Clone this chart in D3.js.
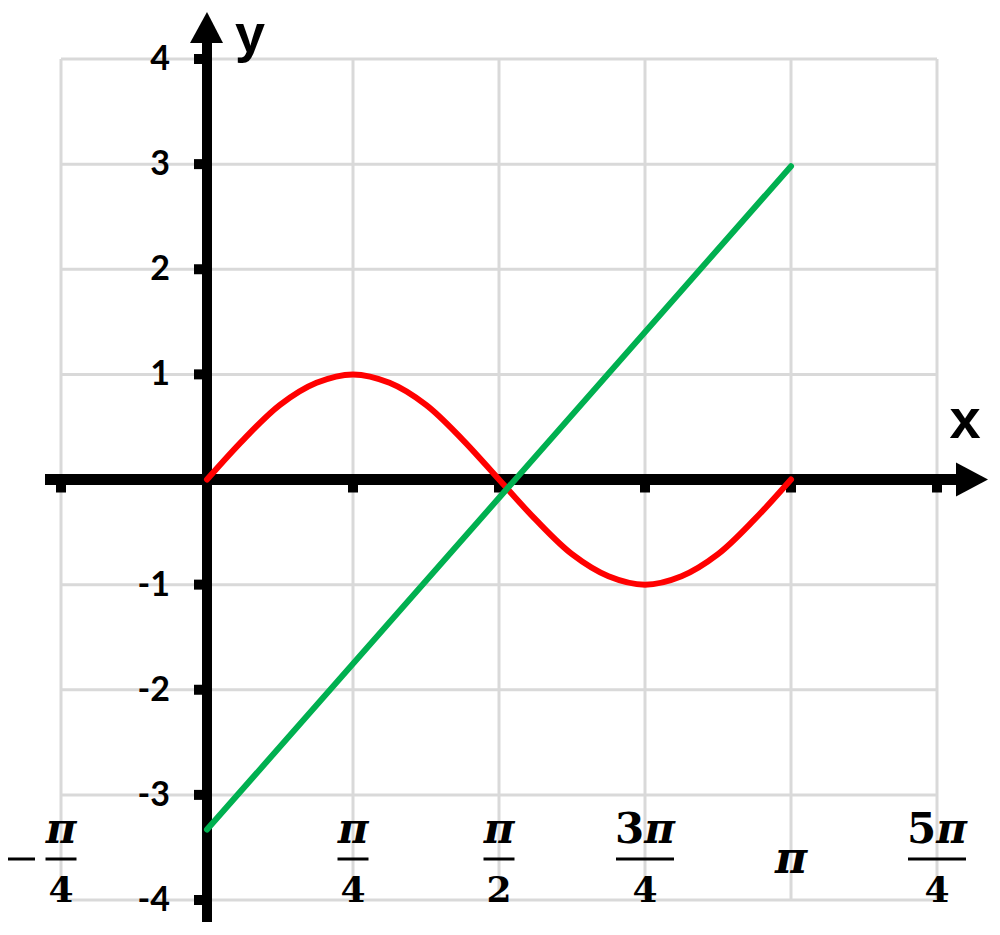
<!DOCTYPE html>
<html>
<head>
<meta charset="utf-8">
<script src="https://cdn.jsdelivr.net/npm/d3@7"></script>
<style>
  body { margin: 0; background: #fff; }
</style>
</head>
<body>
<div id="graph"></div>
<script>
// x ticks every pi/4
var xTickValues = [-Math.PI / 4, 0, Math.PI / 4, Math.PI / 2, 3 * Math.PI / 4, Math.PI, 5 * Math.PI / 4];
var xTickSign   = ["\u2212", null, "", "", "", "", ""];
var xTickCoef   = ["", null, "", "", "3", "", "5"];
var xTickDenom  = ["4", null, "4", "2", "4", null, "4"];

var yTickValues = [-4, -3, -2, -1, 1, 2, 3, 4];

// red curve, sampled every pi/16 from 0 to pi
var redStep = Math.PI / 16;
var redY = [0, 0.38, 0.71, 0.92, 1, 0.92, 0.71, 0.38, 0, -0.38, -0.71, -0.92, -1, -0.92, -0.71, -0.38, 0];

// green line
var greenX = [0, Math.PI];
var greenY = [-3.33, 2.98];

var width = 1000, height = 935;

var svg = d3.select("#graph")
  .append("svg")
    .attr("width", width)
    .attr("height", height);

var x = d3.scaleLinear()
  .domain([-Math.PI / 4, 5 * Math.PI / 4])
  .range([61, 937]);

var y = d3.scaleLinear()
  .domain([-4, 4])
  .range([900, 59]);

// grid
svg.append("g")
  .selectAll("line")
  .data(xTickValues)
  .enter().append("line")
    .attr("x1", function(d) { return x(d); })
    .attr("x2", function(d) { return x(d); })
    .attr("y1", y(4))
    .attr("y2", y(-4))
    .attr("stroke", "#d9d9d9")
    .attr("stroke-width", 3);

svg.append("g")
  .selectAll("line")
  .data(d3.range(-4, 5))
  .enter().append("line")
    .attr("x1", x(-Math.PI / 4))
    .attr("x2", x(5 * Math.PI / 4))
    .attr("y1", function(d) { return y(d); })
    .attr("y2", function(d) { return y(d); })
    .attr("stroke", "#d9d9d9")
    .attr("stroke-width", 3);

// x axis
var x0 = x(0), y0 = y(0);
svg.append("line")
  .attr("x1", x(-Math.PI / 4) - 16)
  .attr("x2", 958)
  .attr("y1", y0)
  .attr("y2", y0)
  .attr("stroke", "#000")
  .attr("stroke-width", 11);
svg.append("path")
  .attr("d", "M956," + (y0 - 17) + "L988," + y0 + "L956," + (y0 + 17) + "Z")
  .attr("fill", "#000");

svg.append("g")
  .selectAll("rect")
  .data(xTickValues.filter(function(d) { return d != 0; }))
  .enter().append("rect")
    .attr("x", function(d) { return x(d) - 5; })
    .attr("y", y0 + 4)
    .attr("width", 10)
    .attr("height", 9)
    .attr("fill", "#000");

// y axis
svg.append("line")
  .attr("x1", x0)
  .attr("x2", x0)
  .attr("y1", 922)
  .attr("y2", 41)
  .attr("stroke", "#000")
  .attr("stroke-width", 10);
svg.append("path")
  .attr("d", "M" + (x0 - 17) + ",43L" + x0 + ",12L" + (x0 + 16) + ",43Z")
  .attr("fill", "#000");

svg.append("g")
  .selectAll("rect")
  .data(yTickValues)
  .enter().append("rect")
    .attr("x", x0 - 13)
    .attr("y", function(d) { return y(d) - 5; })
    .attr("width", 10)
    .attr("height", 10)
    .attr("fill", "#000");

// y tick labels
svg.append("g")
  .selectAll("text")
  .data(yTickValues)
  .enter().append("text")
    .attr("x", 170)
    .attr("y", function(d) { return y(d) + 11; })
    .attr("text-anchor", "end")
    .attr("font-family", "Lato, 'Open Sans', sans-serif")
    .attr("font-weight", "bold")
    .attr("font-size", 34)
    .text(function(d) { return d; });

// x tick labels (fractions)
var xl = svg.append("g")
  .attr("font-family", "'DejaVu Serif', serif")
  .attr("font-weight", "bold")
  .attr("text-anchor", "middle");

xTickValues.forEach(function(v, i) {
  if (xTickCoef[i] == null) return;
  var cx = x(v);
  if (xTickDenom[i] == null) {
    xl.append("text")
      .attr("x", cx)
      .attr("y", 873)
      .attr("font-size", 44)
      .attr("font-style", "italic")
      .text("\u03c0");
    return;
  }
  var barW = xTickCoef[i] ? 58 : 31;
  var num = xl.append("text")
    .attr("x", cx)
    .attr("y", 843)
    .attr("font-size", 42);
  if (xTickCoef[i]) num.append("tspan").text(xTickCoef[i]);
  num.append("tspan").attr("font-style", "italic").text("\u03c0");
  xl.append("line")
    .attr("x1", cx - barW / 2)
    .attr("x2", cx + barW / 2)
    .attr("y1", 859)
    .attr("y2", 859)
    .attr("stroke", "#000")
    .attr("stroke-width", 3);
  xl.append("text")
    .attr("x", cx)
    .attr("y", 902)
    .attr("font-size", 36)
    .text(xTickDenom[i]);
  if (xTickSign[i]) {
    xl.append("line")
      .attr("x1", cx - 53)
      .attr("x2", cx - 26)
      .attr("y1", 859)
      .attr("y2", 859)
      .attr("stroke", "#000")
      .attr("stroke-width", 3);
  }
});

// curves
svg.append("path")
  .datum(redY)
  .attr("fill", "none")
  .attr("stroke", "#ff0000")
  .attr("stroke-width", 6)
  .attr("stroke-linecap", "round")
  .attr("d", d3.line()
    .curve(d3.curveCatmullRom)
    .x(function(d, i) { return x(i * redStep); })
    .y(function(d) { return y(d); })
  );

svg.append("path")
  .datum(d3.zip(greenX, greenY))
  .attr("fill", "none")
  .attr("stroke", "#00b050")
  .attr("stroke-width", 6)
  .attr("stroke-linecap", "round")
  .attr("d", d3.line()
    .x(function(d) { return x(d[0]); })
    .y(function(d) { return y(d[1]); })
  );

// axis names
svg.append("text")
  .attr("x", 250)
  .attr("y", 52)
  .attr("text-anchor", "middle")
  .attr("font-family", "'Liberation Sans', Arial, sans-serif")
  .attr("font-weight", "bold")
  .attr("font-size", 54)
  .text("y");

svg.append("text")
  .attr("x", 965)
  .attr("y", 438)
  .attr("text-anchor", "middle")
  .attr("font-family", "'Liberation Sans', Arial, sans-serif")
  .attr("font-weight", "bold")
  .attr("font-size", 56)
  .text("x");
</script>
</body>
</html>
